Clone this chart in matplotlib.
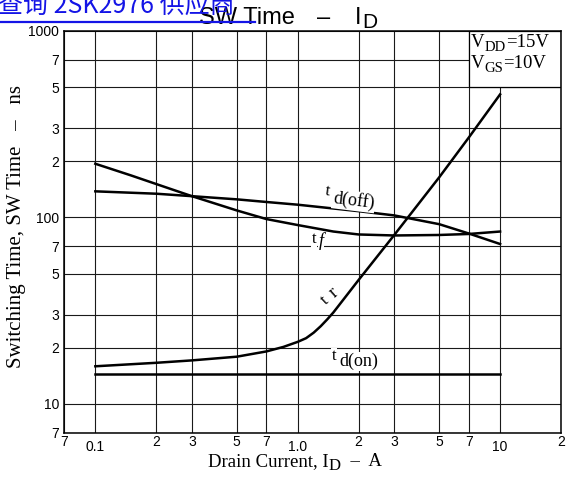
import matplotlib
matplotlib.use("Agg")
import matplotlib.pyplot as plt
from matplotlib.lines import Line2D
from matplotlib.patches import Rectangle
from matplotlib.ticker import FixedLocator, FixedFormatter

# values (drain current in A, times in ns)
id_tdon = [0.1, 10]
t_don = [14.5, 14.5]

id_tr = [0.1, 0.2, 0.3, 0.5, 0.7, 0.85, 1.0, 1.1, 1.2, 1.3, 1.4, 1.5, 1.7, 2, 3, 5, 7, 10]
t_r = [15.9, 16.6, 17.1, 17.9, 19.1, 20.2, 21.5, 22.5, 24.1, 26.1, 28.4, 30.9, 36.8, 46.2,
       80.5, 164, 268, 457]

id_tf = [0.1, 0.15, 0.2, 0.3, 0.5, 0.7, 1.0, 1.5, 2, 3, 5, 7, 10]
t_f = [194, 168, 151, 130, 109, 98, 91, 84, 81, 80, 80.5, 81.5, 84]

id_tdoff = [0.1, 0.2, 0.3, 0.5, 0.7, 1.0, 2, 3, 5, 7, 10]
t_doff = [138, 134, 130, 125, 121, 117, 108, 102.5, 92, 82, 72]

x_major = [0.1, 1, 10]
x_major_labels = ["0.1", "1.0", "10"]
x_minor = [0.07, 0.2, 0.3, 0.5, 0.7, 2, 3, 5, 7, 20]
x_minor_labels = ["7", "2", "3", "5", "7", "2", "3", "5", "7", "2"]

y_major = [10, 100, 1000]
y_major_labels = ["10", "100", "1000"]
y_minor = [7, 20, 30, 50, 70, 200, 300, 500, 700]
y_minor_labels = ["7", "2", "3", "5", "7", "2", "3", "5", "7"]

SANS = "Liberation Sans"
SERIF = "Liberation Serif"

fig = plt.figure(figsize=(5.67, 4.83), dpi=100)
W, H = 567, 483


def fx(px):
    return px / W


def fy(py):
    return 1 - py / H


ax = fig.add_axes([fx(64), fy(432.7), 497 / W, 401.7 / H])
ax.set_xscale("log")
ax.set_yscale("log")
ax.set_xlim(0.07, 20)
ax.set_ylim(7, 1000)

# ticks: labels only, grid on every tick
ax.xaxis.set_major_locator(FixedLocator(x_major))
ax.xaxis.set_major_formatter(FixedFormatter(x_major_labels))
ax.xaxis.set_minor_locator(FixedLocator(x_minor))
ax.xaxis.set_minor_formatter(FixedFormatter(x_minor_labels))
ax.yaxis.set_major_locator(FixedLocator(y_major))
ax.yaxis.set_major_formatter(FixedFormatter(y_major_labels))
ax.yaxis.set_minor_locator(FixedLocator(y_minor))
ax.yaxis.set_minor_formatter(FixedFormatter(y_minor_labels))

ax.tick_params(axis="both", which="both", length=0, labelsize=10)
ax.tick_params(axis="x", which="major", pad=5)
ax.tick_params(axis="x", which="minor", pad=1.5)
ax.tick_params(axis="y", which="both", pad=3.5)
for lab in ax.get_xticklabels(which="both") + ax.get_yticklabels(which="both"):
    lab.set_fontfamily(SANS)

ax.grid(True, which="both", color="#1a1a1a", lw=0.8)
ax.set_axisbelow(True)
for sp in ax.spines.values():
    sp.set_linewidth(1.1)


def chain(x, y, parts, family, coords):
    # write text pieces one after another, each with its own size and drop
    prev = None
    for txt, size, drop in parts:
        if prev is None:
            prev = ax.annotate(txt, xy=(x, y), xycoords=coords, family=family,
                               fontsize=size, ha="left", va="bottom", zorder=4,
                               annotation_clip=False)
        else:
            prev = ax.annotate(txt, xy=(1, 0), xycoords=prev, xytext=(0, -drop),
                               textcoords="offset points", family=family,
                               fontsize=size, ha="left", va="bottom", zorder=4,
                               annotation_clip=False)
    return prev


# condition box in the top right corner
ax.add_patch(Rectangle((7, 500), 13, 500, facecolor="white", edgecolor="black",
                       lw=0.9, zorder=2.5))
chain(fx(471), fy(51), [("V", 13.5, 0), ("DD", 10.5, 2.5), ("=15V", 13.5, -2.5)],
      SERIF, "figure fraction")
chain(fx(471), fy(72), [("V", 13.5, 0), ("GS", 10.5, 2.5), ("=10V", 13.5, -2.5)],
      SERIF, "figure fraction")

# curves
lw = 1.8
ax.plot(id_tdon, t_don, color="black", lw=lw, zorder=3)
ax.plot(id_tr, t_r, color="black", lw=lw, zorder=3)
ax.plot(id_tf, t_f, color="black", lw=lw, zorder=3)
ax.plot(id_tdoff, t_doff, color="black", lw=lw, zorder=3)


def curve_label(x, y, sub, rot=0, dx=4, dy=-5, sub_style="normal"):
    box = dict(facecolor="white", edgecolor="none", pad=0.6)
    ax.text(x, y, "t", family=SERIF, fontsize=12, rotation=rot,
            ha="left", va="baseline", bbox=box, zorder=4, rotation_mode="anchor")
    ax.annotate(sub, xy=(x, y), xytext=(dx, dy), textcoords="offset points",
                family=SERIF, fontsize=13, rotation=rot, style=sub_style,
                ha="left", va="baseline", bbox=box, zorder=4,
                rotation_mode="anchor")


curve_label(1.36, 132, "d(off)", rot=-7, dx=5.5, dy=-6)
curve_label(1.17, 73, "f", dx=5, dy=-2.5, sub_style="italic")
curve_label(1.47, 17.1, "d(on)", dx=5.5, dy=-4)
curve_label(1.38, 33.8, "r", rot=42, dx=6, dy=5)

# title
fig.text(fx(199), fy(24), "SW Time", family=SANS, fontsize=17, va="baseline", ha="left")
fig.text(fx(324), fy(24), "\u2013", family=SANS, fontsize=17, va="baseline", ha="center")
fig.text(fx(355), fy(24), "I", family=SANS, fontsize=17, va="baseline", ha="left")
fig.text(fx(362), fy(27.5), "D", family=SANS, fontsize=15, va="baseline", ha="left")

# axis labels
chain(fx(208), fy(470), [("Drain Current, I", 13.5, 0), ("D", 12, 3),
                         ("  \u2013  A", 13.5, -3)], SERIF, "figure fraction")
fig.text(fx(17), fy(227), "Switching Time, SW Time   \u2013   ns",
         family=SERIF, fontsize=15, rotation=90, ha="center", va="center")

# blue web-page overlay at the top left
fig.text(fx(-2), fy(13), "查询 2SK2976 供应商",
         family=["Noto Sans CJK SC", "DejaVu Sans"], fontsize=18,
         color="#1414e6", ha="left", va="baseline")
fig.add_artist(Line2D([0, fx(255)], [fy(22), fy(22)],
                      transform=fig.transFigure, color="#1414e6", lw=1.6, zorder=5))

fig.savefig("out.png", dpi=100)
